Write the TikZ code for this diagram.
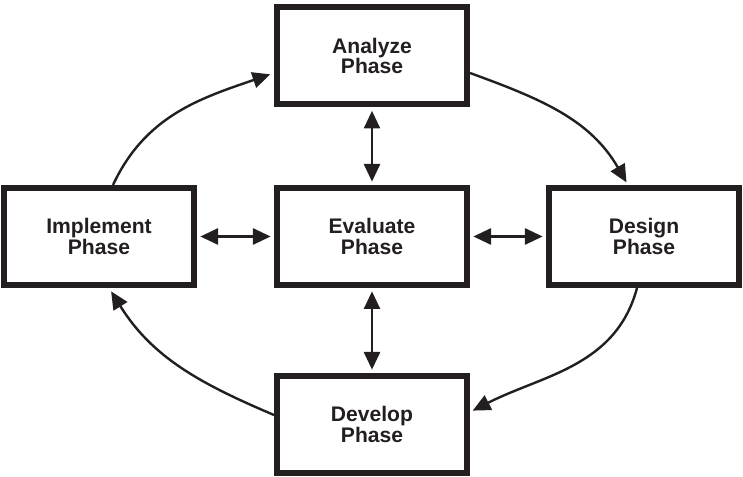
\documentclass[tikz,border=0pt]{standalone}
\usepackage{fontspec}
\setmainfont{Liberation Sans}
\usetikzlibrary{arrows.meta,positioning}
\definecolor{ink}{HTML}{231F20}
\tikzset{
  phasebox/.style={draw=ink,fill=white,line width=0.18cm,
                   minimum width=5.7cm,minimum height=2.91cm,
                   align=center,inner sep=0pt,text=ink,
                   font=\fontsize{18}{17.5}\selectfont\bfseries},
  dblarr/.style={{Triangle[length=0.53cm,width=0.48cm]}-{Triangle[length=0.53cm,width=0.48cm]},
                 line width=0.075cm,draw=ink,shorten <=0.1cm,shorten >=0.1cm},
  cyclearr/.style={-{Triangle[length=0.53cm,width=0.48cm]},line width=0.072cm,draw=ink}
}

\begin{document}
\begin{tikzpicture}[x=0.03cm,y=0.03cm]
  \useasboundingbox (0,0) rectangle (743,477);
  % the five phases
  \node[phasebox] (ana)  at (372,421)   {Analyze\\Phase};
  \node[phasebox] (eva)  at (372,240.5) {Evaluate\\Phase};
  \node[phasebox] (dev)  at (372,52.5)  {Develop\\Phase};
  \node[phasebox] (impl) at (99,240.5)  {Implement\\Phase};
  \node[phasebox] (des)  at (644,240.5) {Design\\Phase};
  % evaluate talks to every phase
  \draw[dblarr] (ana) -- (eva);
  \draw[dblarr] (eva) -- (dev);
  \draw[dblarr] (impl) -- (eva);
  \draw[dblarr] (eva) -- (des);
  % outer cycle
  \draw[cyclearr,shorten >=0.12cm] ([xshift=0.42cm]impl.north) to[out=65,in=199] ([yshift=-0.51cm]ana.west);
  \draw[cyclearr,shorten >=0.09cm] ([yshift=-0.51cm]ana.east) to[out=-20,in=120] ([xshift=-0.48cm]des.north);
  \draw[cyclearr,shorten >=0.09cm] ([xshift=-0.21cm]des.south) to[out=-105,in=27] ([yshift=0.375cm]dev.east);
  \draw[cyclearr,shorten >=0.12cm] ([yshift=0.285cm]dev.west) to[out=157,in=-58] ([xshift=0.3cm]impl.south);
\end{tikzpicture}
\end{document}
